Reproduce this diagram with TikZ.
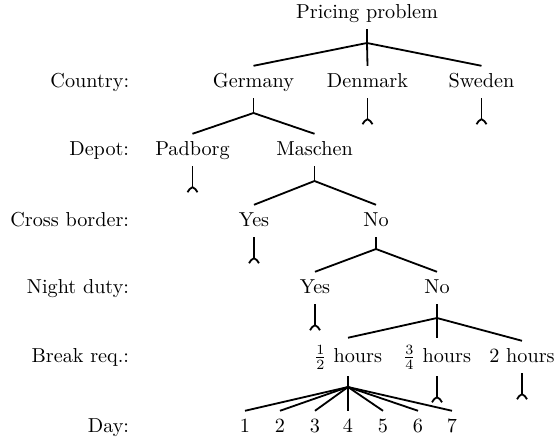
\documentclass[tikz,border=0pt]{standalone}
\usetikzlibrary{calc}
\tikzset{
  tn/.style={text height=7pt,text depth=2pt,inner sep=3.33pt},
  fr/.style={text height=8.5pt,text depth=3.5pt,inner sep=3.33pt},
  lab/.style={anchor=east,inner sep=0pt,text height=7pt,text depth=2pt},
  edge/.style={line width=0.9pt},
}
\newcommand\leafmark[1]{%
  \draw[edge] (#1.south) -- ++(0,21) coordinate (#1-tip);
  \draw[edge] ($(#1-tip)+(-5,5)$) .. controls ($(#1-tip)+(-3.8,2.6)$) and ($(#1-tip)+(-2,0.6)$) .. (#1-tip)
     .. controls ($(#1-tip)+(2,0.6)$) and ($(#1-tip)+(3.8,2.6)$) .. ($(#1-tip)+(5,5)$);}
\begin{document}
\begin{tikzpicture}[x=0.495pt,y=-0.495pt]
\useasboundingbox (0,0) rectangle (556,441);
% level labels
\node[lab] (lc) at (129.5,82) {Country:};
\node[lab] (ld) at (129.5,150) {Depot:};
\node[lab] (lx) at (129.5,221) {Cross border:};
\node[lab] (ln) at (129.5,288) {Night duty:};
\node[lab] (lb) at (129.5,357) {Break req.:};
\node[lab] (ly) at (129.5,427) {Day:};
% tree nodes
\node[tn] (root) at (367,13) {Pricing problem};
\node[tn] (ger) at (253.5,82) {Germany};
\node[tn] (den) at (367.5,82) {Denmark};
\node[tn] (swe) at (481.5,82) {Sweden};
\node[tn] (pad) at (192.5,150) {Padborg};
\node[tn] (mas) at (314.5,150) {Maschen};
\node[tn] (cby) at (254,221) {Yes};
\node[tn] (cbn) at (376,221) {No};
\node[tn] (ndy) at (315,288) {Yes};
\node[tn] (ndn) at (437,288) {No};
\node[fr] (half) at (348,357) {$\frac{1}{2}$ hours};
\node[fr] (tq) at (437,357) {$\frac{3}{4}$ hours};
\node[tn] (two) at (522,357) {2 hours};
\foreach \i/\x in {1/245,2/280,3/315,4/348,5/383,6/418,7/452}
  \node[tn] (d\i) at (\x,427) {\i};
% junctions
\coordinate (j0) at (367,43);
\coordinate (j1) at (253.5,113);
\coordinate (j2) at (314.5,181);
\coordinate (j3) at (376,249);
\coordinate (j4) at (437,318);
\coordinate (j5) at (348,387);
% edges
\draw[edge] (root.south) -- (j0);
\draw[edge] (j0) -- (ger.north);
\draw[edge] (j0) -- (den.north);
\draw[edge] (j0) -- (swe.north);
\draw[edge] (ger.south) -- (j1);
\draw[edge] (j1) -- (pad.north);
\draw[edge] (j1) -- (mas.north);
\draw[edge] (mas.south) -- (j2);
\draw[edge] (j2) -- (cby.north);
\draw[edge] (j2) -- (cbn.north);
\draw[edge] (cbn.south) -- (j3);
\draw[edge] (j3) -- (ndy.north);
\draw[edge] (j3) -- (ndn.north);
\draw[edge] (ndn.south) -- (j4);
\draw[edge] (j4) -- (half.north);
\draw[edge] (j4) -- (tq.north);
\draw[edge] (j4) -- (two.north);
\draw[edge] (half.south) -- (j5);
\foreach \i in {1,...,7} \draw[edge] (j5) -- (d\i.north);
% leaves
\leafmark{den}
\leafmark{swe}
\leafmark{pad}
\leafmark{cby}
\leafmark{ndy}
\leafmark{tq}
\leafmark{two}
\end{tikzpicture}
\end{document}
